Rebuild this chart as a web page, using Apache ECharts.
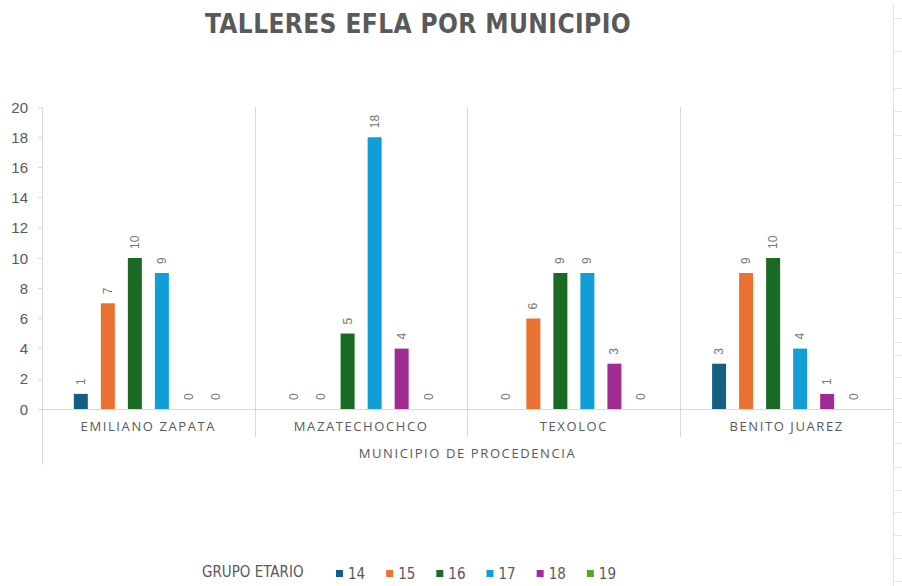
<!DOCTYPE html>
<html>
<head>
<meta charset="utf-8">
<script src="https://cdn.jsdelivr.net/npm/echarts@6/dist/echarts.min.js"></script>
<style>
html,body{margin:0;padding:0;background:#fff;}
#chart{width:902px;height:586px;}
#chart svg text[style*="Open Sans"]{letter-spacing:1.6px;}
#chart svg text[style*="26px"]{letter-spacing:0.4px;}
</style>
</head>
<body>
<div id="chart"></div>
<script>
const titleText = 'TALLERES EFLA POR MUNICIPIO';
const legendTitle = 'GRUPO ETARIO';
const axisName = 'MUNICIPIO DE PROCEDENCIA';
const categories = ['EMILIANO ZAPATA', 'MAZATECHOCHCO', 'TEXOLOC', 'BENITO JUAREZ'];
const groups = ['14', '15', '16', '17', '18', '19'];
const g14 = [1, 0, 0, 3];
const g15 = [7, 0, 6, 9];
const g16 = [10, 5, 9, 10];
const g17 = [9, 18, 9, 4];
const g18 = [0, 4, 3, 1];
const g19 = [0, 0, 0, 0];
const yTicks = { min: 0, max: 20, interval: 2 };

const seriesValues = [g14, g15, g16, g17, g18, g19];
const colors = ['#156082', '#E97132', '#196B24', '#0F9ED5', '#A02B93', '#4EA72E'];
const gray = '#595959';
const lineGray = '#d9d9d9';
const narrowFont = 'Liberation Sans Narrow, DejaVu Sans Condensed, Liberation Sans';

const chart = echarts.init(document.getElementById('chart'), null, { renderer: 'svg' });

const rowLines = [18, 51, 88, 111, 135, 158, 182, 205, 228, 252, 273, 297, 318, 342, 355, 377, 398, 422, 443, 467, 490, 512, 535, 558, 581];
const deco = [{
  type: 'line', silent: true,
  shape: { x1: 893.5, y1: 5, x2: 893.5, y2: 586 },
  style: { stroke: '#e2e2e2', lineWidth: 1 }
}].concat(rowLines.map(y => ({
  type: 'line', silent: true,
  shape: { x1: 894, y1: y + 0.5, x2: 902, y2: y + 0.5 },
  style: { stroke: '#e6e6e6', lineWidth: 1 }
})));

chart.setOption({
  animation: false,
  color: colors,
  title: [{
    text: titleText,
    left: 413,
    textAlign: 'center',
    top: 6,
    textStyle: { fontFamily: 'DejaVu Sans Condensed, DejaVu Sans', fontWeight: 'bold', fontSize: 26, color: gray }
  }, {
    text: legendTitle,
    left: 197,
    top: 559,
    textStyle: { fontFamily: narrowFont, fontWeight: 'normal', fontSize: 15, color: gray }
  }],
  legend: {
    data: groups,
    left: 331,
    top: 561,
    icon: 'rect',
    itemWidth: 7,
    itemHeight: 7,
    itemGap: 21,
    textStyle: { fontFamily: narrowFont, fontSize: 15, color: gray }
  },
  grid: { left: 42, right: 9, top: 107, bottom: 177, containLabel: false },
  xAxis: [{
    type: 'category',
    data: categories,
    axisLine: { show: true, lineStyle: { color: lineGray } },
    axisTick: { show: true, length: 28, interval: 0, lineStyle: { color: lineGray } },
    splitLine: { show: true, interval: 0, lineStyle: { color: lineGray } },
    axisLabel: { interval: 0, margin: 10, fontFamily: 'Open Sans', fontSize: 13, color: gray }
  }, {
    type: 'category',
    position: 'bottom',
    data: [axisName],
    axisLine: { show: false },
    axisTick: { show: true, length: 56, interval: 0, lineStyle: { color: lineGray } },
    splitLine: { show: false },
    axisLabel: { interval: 0, margin: 37, fontFamily: 'Open Sans', fontSize: 13, color: gray }
  }],
  yAxis: {
    type: 'value',
    min: yTicks.min, max: yTicks.max, interval: yTicks.interval,
    axisLine: { show: true, lineStyle: { color: lineGray } },
    axisTick: { show: true, length: 4, lineStyle: { color: lineGray } },
    splitLine: { show: false },
    axisLabel: { margin: 14, fontFamily: 'Liberation Sans', fontSize: 15, color: gray }
  },
  series: groups.map((g, i) => ({
    name: g,
    type: 'bar',
    xAxisIndex: 0,
    data: seriesValues[i],
    barWidth: 14,
    barGap: '93%',
    itemStyle: { color: colors[i] },
    label: {
      show: true,
      position: 'top',
      distance: 9,
      rotate: 90,
      align: 'left',
      verticalAlign: 'middle',
      fontFamily: 'Liberation Sans',
      fontSize: 12,
      color: '#767676'
    }
  })),
  graphic: deco
});
</script>
</body>
</html>
